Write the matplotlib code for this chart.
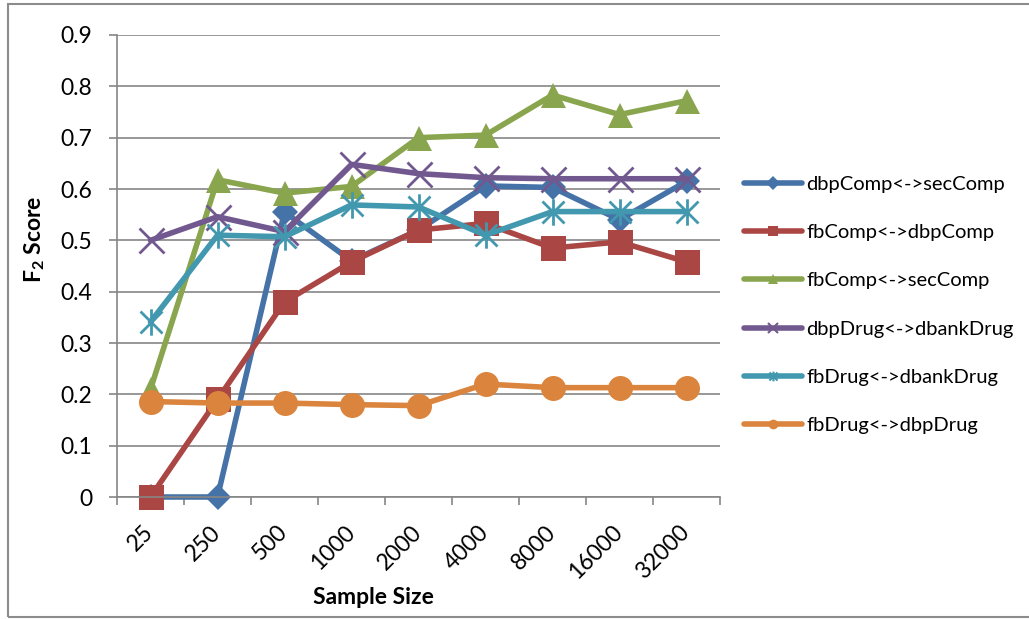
import matplotlib
matplotlib.use("Agg")
import matplotlib.pyplot as plt
from matplotlib.lines import Line2D
from matplotlib.path import Path
from matplotlib.patches import Rectangle

plt.rcParams['font.family'] = ['Lato', 'DejaVu Sans']
plt.rcParams['mathtext.fontset'] = 'custom'
plt.rcParams['mathtext.rm'] = 'Lato'
plt.rcParams['mathtext.bf'] = 'Lato:bold'

sample_sizes = ['25', '250', '500', '1000', '2000', '4000', '8000', '16000', '32000']

dbp_comp_sec = [0.0, 0.0, 0.555, 0.46, 0.52, 0.606, 0.603, 0.54, 0.615]
fb_comp_dbp = [0.0, 0.19, 0.38, 0.458, 0.52, 0.533, 0.485, 0.497, 0.458]
fb_comp_sec = [0.21, 0.618, 0.592, 0.605, 0.70, 0.705, 0.783, 0.745, 0.772]
dbp_drug_dbank = [0.50, 0.546, 0.517, 0.648, 0.63, 0.622, 0.62, 0.62, 0.62]
fb_drug_dbank = [0.341, 0.51, 0.507, 0.569, 0.565, 0.51, 0.556, 0.556, 0.556]
fb_drug_dbp = [0.186, 0.183, 0.183, 0.18, 0.178, 0.22, 0.213, 0.213, 0.213]

labels = ['dbpComp<->secComp', 'fbComp<->dbpComp', 'fbComp<->secComp',
          'dbpDrug<->dbankDrug', 'fbDrug<->dbankDrug', 'fbDrug<->dbpDrug']
colors = ['#4572A7', '#AA4643', '#89A54E', '#71588F', '#4198AF', '#DB843D']

# asterisk marker: an x with a vertical bar through it
star = Path([(-1, -1), (1, 1), (-1, 1), (1, -1), (0, -1.2), (0, 1.2)],
            [Path.MOVETO, Path.LINETO, Path.MOVETO, Path.LINETO, Path.MOVETO, Path.LINETO])

series = [dbp_comp_sec, fb_comp_dbp, fb_comp_sec, dbp_drug_dbank, fb_drug_dbank, fb_drug_dbp]
markers = ['D', 's', '^', 'x', star, 'o']
sizes = [13, 18, 18, 18, 19, 18]
hollow = [False, False, False, True, True, False]

fig = plt.figure(figsize=(10.29, 6.19), dpi=100)
ax = fig.add_axes([117 / 1029, 1 - 497 / 619, (720 - 117) / 1029, (497 - 35) / 619])

x = list(range(len(sample_sizes)))
for vals, lab, c, m, ms, h in zip(series, labels, colors, markers, sizes, hollow):
    if h:
        ax.plot(x, vals, color=c, lw=4, marker=m, ms=ms, mew=2, mfc='none', mec=c,
                solid_capstyle='round', clip_on=False, label=lab)
    else:
        ax.plot(x, vals, color=c, lw=4, marker=m, ms=ms, mew=0, mfc=c,
                solid_capstyle='round', clip_on=False, label=lab)

ax.set_xlim(-0.5, len(sample_sizes) - 0.5)
ax.set_ylim(0, 0.9)
ax.set_yticks([i / 10 for i in range(10)])
ax.set_yticklabels(['0'] + ['%.1f' % (i / 10) for i in range(1, 10)])
ax.yaxis.grid(True, color='#868686', lw=1.2)
ax.set_axisbelow(True)

ax.set_xticks(x)
ax.set_xticklabels(sample_sizes, rotation=45, ha='right', va='center',
                   rotation_mode='anchor')
ax.set_xticks([i - 0.5 for i in range(len(sample_sizes) + 1)], minor=True)
ax.tick_params(axis='x', which='major', length=0, pad=23, labelsize=16.5)
ax.tick_params(axis='x', which='minor', length=6, width=1.2, color='#868686', direction='out')
ax.tick_params(axis='y', length=6, width=1.2, color='#868686', pad=12, labelsize=16.5)

for s in ['top', 'right']:
    ax.spines[s].set_visible(False)
for s in ['left', 'bottom']:
    ax.spines[s].set_color('#868686')
    ax.spines[s].set_linewidth(1.2)

ax.set_xlabel('Sample Size', fontsize=16.5, fontweight='bold', va='top')
ax.xaxis.set_label_coords(0.426, -0.195)
ax.set_ylabel(r'$\mathbf{F_2}$ Score', fontsize=16.5, fontweight='bold')
ax.yaxis.set_label_coords(-0.116, 0.558)

# legend with small markers
handles = []
for c, m, h in zip(colors, markers, hollow):
    if h:
        handles.append(Line2D([], [], color=c, lw=4, marker=m, ms=7, mew=1.5, mfc='none',
                              mec=c, solid_capstyle='round'))
    else:
        handles.append(Line2D([], [], color=c, lw=4, marker=m, ms=7, mew=0, mfc=c,
                              solid_capstyle='round'))
fig.legend(handles, labels, loc='center left', bbox_to_anchor=(744 / 1029, 1 - 305 / 619),
           frameon=False, fontsize=14.5, handlelength=2.9, handletextpad=0.2,
           labelspacing=1.55, borderaxespad=0, borderpad=0)

# outer frame of the chart area
fig.patches.append(Rectangle((8 / 1029, 1 - 617 / 619), 1.2, (617 - 3.5) / 619,
                             transform=fig.transFigure, fill=False,
                             edgecolor='#8c8c8c', lw=1.5))

fig.savefig('out.png', dpi=100)
